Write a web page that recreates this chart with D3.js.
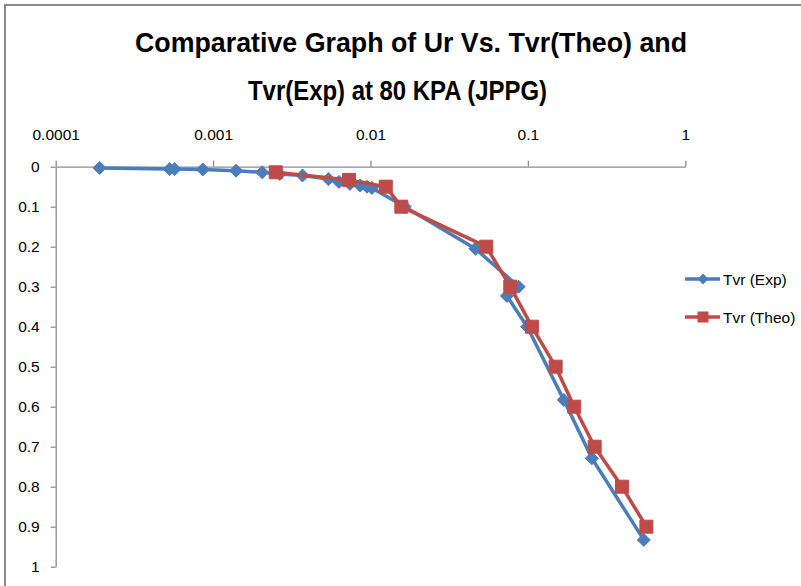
<!DOCTYPE html>
<html>
<head>
<meta charset="utf-8">
<script src="https://cdn.jsdelivr.net/npm/d3@7"></script>
<style>
body { margin: 0; background: #fff; }
text { font-family: "Liberation Sans Narrow", "Liberation Sans", Arial, sans-serif; }
</style>
</head>
<body>
<script>
let width = 801
let height = 586

// data
let expUr = [0.00019, 0.00053, 0.00057, 0.00086, 0.0014, 0.00205, 0.00265, 0.0037, 0.0054, 0.0063, 0.0074, 0.0086, 0.0095, 0.0102, 0.0165, 0.0464, 0.0873, 0.0736, 0.099, 0.169, 0.255, 0.545]
let expTvr = [0.003, 0.006, 0.006, 0.007, 0.01, 0.014, 0.018, 0.022, 0.031, 0.038, 0.043, 0.047, 0.05, 0.053, 0.1, 0.205, 0.30, 0.323, 0.40, 0.583, 0.729, 0.933]

let theoUr = [0.0025, 0.0073, 0.0125, 0.0157, 0.0544, 0.0773, 0.106, 0.150, 0.197, 0.2655, 0.396, 0.566]
let theoTvr = [0.014, 0.033, 0.05, 0.1, 0.2, 0.3, 0.4, 0.5, 0.6, 0.7, 0.8, 0.9]

let xTicks = [0.0001, 0.001, 0.01, 0.1, 1]
let xTickLabels = ["0.0001", "0.001", "0.01", "0.1", "1"]
let yTicks = [0, 0.1, 0.2, 0.3, 0.4, 0.5, 0.6, 0.7, 0.8, 0.9, 1]
let yTickLabels = ["0", "0.1", "0.2", "0.3", "0.4", "0.5", "0.6", "0.7", "0.8", "0.9", "1"]

let seriesNames = ["Tvr (Exp)", "Tvr (Theo)"]
let titleLines = ["Comparative Graph of Ur Vs. Tvr(Theo) and", "Tvr(Exp) at 80 KPA (JPPG)"]

let blue = "#4a7ebb"
let red = "#be4b48"
let axisColor = "#8c8c8c"

let svg = d3.select("body")
.append("svg")
.attr("width", width)
.attr("height", height)

// chart frame
svg.append("rect")
.attr("x", 5)
.attr("y", 5)
.attr("width", 840)
.attr("height", 640)
.style("fill", "#fff")
.style("stroke", "#8a8a8a")
.style("stroke-width", 2)

// title
let titleW = [552, 299]
titleLines.forEach((t, i) => {
	svg.append("text")
	.attr("x", i == 0 ? 411 : 397.5)
	.attr("y", 52 + i * 48)
	.attr("text-anchor", "middle")
	.attr("textLength", titleW[i])
	.attr("lengthAdjust", "spacingAndGlyphs")
	.style("font-size", "28px")
	.style("font-weight", "bold")
	.style("fill", "#000")
	.text(t)
})

//scales
let x = d3.scaleLog()
.domain([0.0001, 1])
.range([55.7, 685.3])

let y = d3.scaleLinear()
.domain([0, 1])
.range([166.7, 566.7])

let xAxis = d3.axisTop(x)
	.tickValues(xTicks)
	.tickFormat((d, i) => xTickLabels[i])
	.tickSize(6)
	.tickSizeOuter(0)

let yAxis = d3.axisLeft(y)
	.tickValues(yTicks)
	.tickFormat((d, i) => yTickLabels[i])
	.tickSize(5)
	.tickSizeOuter(0)

let gx = svg.append("g")
.attr("transform", "translate(0," + y(0) + ")")
.call(xAxis)

gx.selectAll("text")
.attr("y", -27)
.attr("dy", 0)

let gy = svg.append("g")
.attr("transform", "translate(" + x(0.0001) + ",0)")
.call(yAxis)

gy.selectAll("text")
.attr("x", -16)

svg.selectAll(".domain, .tick line")
.style("stroke", axisColor)
.style("stroke-width", 1.3)

svg.selectAll(".tick text")
.style("font-size", "15.5px")
.style("fill", "#000")

// series
let expData = expUr.map((u, i) => ({u: u, t: expTvr[i]}))
let theoData = theoUr.map((u, i) => ({u: u, t: theoTvr[i]}))

let line = d3.line()
.x(d => x(d.u))
.y(d => y(d.t))

let diamond = "M0,-6.5L6.5,0L0,6.5L-6.5,0Z"
let square = "M-6.5,-6.5H6.5V6.5H-6.5Z"

svg.append("path")
.datum(expData)
.attr("d", line)
.style("fill", "none")
.style("stroke", blue)
.style("stroke-width", 3.5)
.style("stroke-linejoin", "round")

svg.selectAll(".expPt")
.data(expData)
.enter()
.append("path")
.attr("class", "expPt")
.attr("d", diamond)
.attr("transform", d => "translate(" + x(d.u) + "," + y(d.t) + ")")
.style("fill", blue)
.style("stroke", blue)

svg.append("path")
.datum(theoData)
.attr("d", line)
.style("fill", "none")
.style("stroke", red)
.style("stroke-width", 3.5)
.style("stroke-linejoin", "round")

svg.selectAll(".theoPt")
.data(theoData)
.enter()
.append("path")
.attr("class", "theoPt")
.attr("d", square)
.attr("transform", d => "translate(" + x(d.u) + "," + y(d.t) + ")")
.style("fill", red)
.style("stroke", red)

// legend
let legend = svg.selectAll(".legend")
.data(seriesNames)
.enter()
.append("g")
.attr("class", "legend")
.attr("transform", (d, i) => "translate(0," + (279 + i * 38) + ")")

legend.append("line")
.attr("x1", 685)
.attr("x2", 720)
.style("stroke", (d, i) => i == 0 ? blue : red)
.style("stroke-width", 3.5)

legend.append("path")
.attr("d", (d, i) => i == 0 ? "M0,-5.5L5.5,0L0,5.5L-5.5,0Z" : "M-5.5,-5.5H5.5V5.5H-5.5Z")
.attr("transform", "translate(703,0)")
.style("fill", (d, i) => i == 0 ? blue : red)

legend.append("text")
.attr("x", 723)
.attr("y", 5.5)
.style("font-size", "15.5px")
.style("fill", "#000")
.text(d => d)
</script>
</body>
</html>
